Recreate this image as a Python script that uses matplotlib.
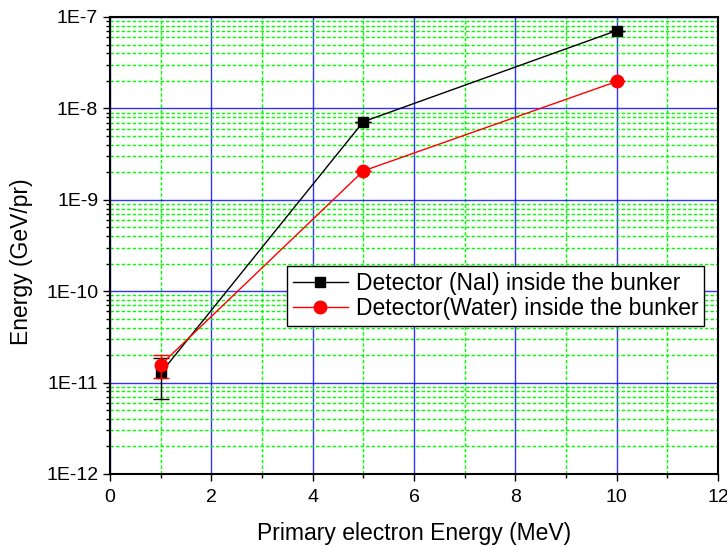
import numpy as np
import matplotlib
matplotlib.use("Agg")
import matplotlib.pyplot as plt
from matplotlib.ticker import FuncFormatter, LogLocator, MultipleLocator

plt.rcParams['font.family'] = ['Liberation Sans', 'DejaVu Sans']

x = [1, 5, 10]
nai = [1.27e-11, 7.15e-9, 7.1e-8]
nai_err = [6.1e-12, 0, 0]
water = [1.56e-11, 2.07e-9, 1.97e-8]
water_err = [4.5e-12, 0, 0]
label_nai = "Detector (NaI) inside the bunker"
label_water = "Detector(Water) inside the bunker"

fig = plt.figure(figsize=(7.27, 5.47), dpi=100)
ax = fig.add_axes([110/727, 1-474/547, 608/727, 457/547])

ax.set_yscale('log')
ax.set_xlim(0, 12)
ax.set_ylim(1e-12, 1e-7)

ax.xaxis.set_major_locator(MultipleLocator(2))
ax.xaxis.set_minor_locator(MultipleLocator(1))
ax.yaxis.set_major_locator(LogLocator(base=10, numticks=10))
ax.yaxis.set_minor_locator(LogLocator(base=10, subs=np.arange(2, 10), numticks=100))
ax.yaxis.set_major_formatter(FuncFormatter(lambda v, p: f"1E{int(round(np.log10(v)))}"))

ax.grid(which='major', color='#0000ff', linestyle='-', linewidth=1.0, alpha=0.8)
ax.grid(which='minor', color='#00ff00', linestyle='--', linewidth=1.0, dashes=(2.5, 1.5))
ax.set_axisbelow(True)

ax.errorbar(x, nai, yerr=nai_err, fmt='none', ecolor='black',
            capsize=6, elinewidth=1.0, capthick=1.0, zorder=3)
ax.errorbar(x, water, yerr=water_err, fmt='none', ecolor='red',
            capsize=6, elinewidth=1.0, capthick=1.0, zorder=4)
ax.plot(x, nai, color='black', marker='s', markersize=7.5, linewidth=1.0, label=label_nai, zorder=3)
ax.plot(x, water, color='red', marker='o', markersize=9, linewidth=1.0, label=label_water, zorder=4)

ax.tick_params(which='major', direction='out', length=5, width=1.0, labelsize=14, top=False, right=False)
ax.tick_params(which='minor', direction='out', length=3, width=1.0, top=False, right=False)
ax.tick_params(axis='x', which='major', pad=6)
for s in ax.spines.values():
    s.set_linewidth(1.5)

ax.set_xlabel("Primary electron Energy (MeV)", fontsize=16.5)
ax.xaxis.set_label_coords(0.5, -(540 - 474) / 457, transform=ax.transAxes)
ax.xaxis.label.set_va('baseline')
ax.set_ylabel("Energy (GeV/pr)", fontsize=16.5)
ax.yaxis.set_label_coords((22 - 110) / 608, (474 - 262) / 457, transform=ax.transAxes)
ax.yaxis.label.set_va('center')

leg = ax.legend(loc='upper right', bbox_to_anchor=(0.977, 0.455), borderaxespad=0,
                fontsize=16.5, fancybox=False, edgecolor='black', framealpha=1,
                handlelength=2.4, borderpad=0.25, labelspacing=0.1, handletextpad=0.35)
leg.get_frame().set_linewidth(1.0)

fig.savefig("out.png", dpi=100)
